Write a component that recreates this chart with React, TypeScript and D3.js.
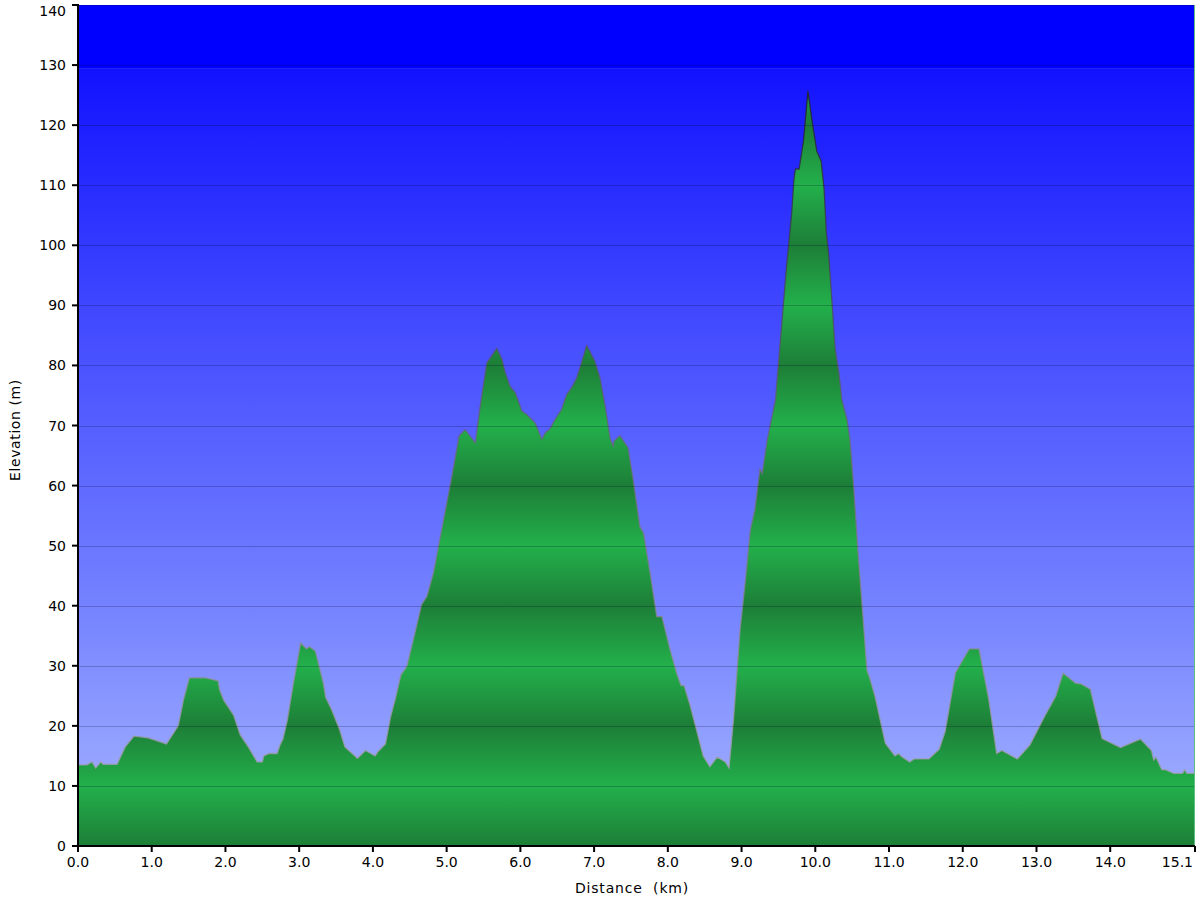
import React from "react";
import * as d3 from "d3";

const distanceKm = [
  0.0, 0.12, 0.19, 0.24, 0.31, 0.34, 0.53, 0.64, 0.76, 0.95, 1.2, 1.36, 1.43, 1.51, 1.73, 1.9, 1.92, 1.98,
  2.11, 2.2, 2.31, 2.43, 2.5, 2.52, 2.59, 2.7, 2.74, 2.78, 2.84, 2.92, 3.02, 3.1, 3.14, 3.22, 3.33, 3.36,
  3.44, 3.55, 3.62, 3.79, 3.9, 4.03, 4.06, 4.17, 4.24, 4.3, 4.38, 4.46, 4.54, 4.66, 4.73, 4.82, 4.89, 4.98,
  5.07, 5.17, 5.25, 5.39, 5.455, 5.545, 5.68, 5.75, 5.79, 5.86, 5.93, 6.02, 6.09, 6.2, 6.24, 6.29, 6.34,
  6.4, 6.47, 6.56, 6.63, 6.7, 6.765, 6.9, 7.01, 7.08, 7.15, 7.22, 7.26, 7.27, 7.35, 7.46, 7.53, 7.62, 7.67,
  7.76, 7.85, 7.92, 8.03, 8.12, 8.18, 8.22, 8.3, 8.4, 8.48, 8.57, 8.67, 8.78, 8.83, 8.89, 8.98, 9.05, 9.12,
  9.18, 9.25, 9.28, 9.35, 9.46, 9.52, 9.61, 9.68, 9.71, 9.73, 9.78, 9.84, 9.9, 9.96, 10.02, 10.08, 10.12,
  10.15, 10.18, 10.23, 10.27, 10.32, 10.36, 10.43, 10.47, 10.52, 10.58, 10.65, 10.7, 10.74, 10.81, 10.95,
  11.08, 11.13, 11.17, 11.28, 11.34, 11.54, 11.68, 11.76, 11.9, 12.04, 12.09, 12.22, 12.35, 12.46, 12.53,
  12.74, 12.91, 13.12, 13.26, 13.36, 13.53, 13.6, 13.73, 13.89, 14.14, 14.41, 14.56, 14.59, 14.62, 14.7,
  14.75, 14.86, 14.98, 15.01, 15.04, 15.15,
];

const elevationM = [
  13.5, 13.5, 14, 13, 14, 13.6, 13.6, 16.5, 18.3, 18, 17, 20, 24.3, 28, 28, 27.5, 26, 24.2,
  21.8, 18.5, 16.5, 14, 14, 15, 15.4, 15.4, 16.8, 17.8, 21, 27, 33.8, 32.8, 33.2, 32.4, 27, 24.7,
  22.7, 19.3, 16.5, 14.6, 15.9, 15, 15.6, 17, 21.5, 24.3, 28.5, 29.9, 33.9, 40.2, 41.5, 45.4, 49.9, 55.7,
  61.5, 68.3, 69.3, 67.1, 73.2, 80.4, 82.8, 81, 79, 76.5, 75.5, 72.4, 71.8, 70.4, 69.3, 67.7, 68.8,
  69.4, 71, 72.7, 75.2, 76.4, 77.9, 83.3, 80.7, 77.9, 73.2, 67.7, 66.6, 67.4, 68.3, 66.3, 61, 53.2, 52.1,
  45.4, 38.2, 38.2, 32.7, 28.8, 26.7, 26.7, 23.5, 18.8, 15, 13.2, 14.8, 14, 13, 21, 36, 44, 52.7,
  56, 62.7, 62, 67.7, 74.3, 83.2, 96.5, 105.4, 111, 112.7, 112.7, 117.4, 125.7, 120.4, 115.7, 114, 109.3,
  102.1, 98.8, 89.9, 82.7, 78.8, 74.3, 71, 67.7, 59.9, 48.8, 37.7, 29.3, 27.9, 24.9, 17.1,
  15, 15.4, 14.9, 14, 14.5, 14.5, 16.1, 19, 28.8, 31.8, 32.8, 32.8, 24.6, 15.4, 15.9,
  14.5, 16.8, 21.8, 24.9, 28.8, 27.1, 27, 26.1, 17.9, 16.4, 17.8, 15.9, 14.3, 14.8, 12.7,
  12.7, 12.1, 12.1, 12.7, 12.1, 12.1,
];

const yTicks = [0, 10, 20, 30, 40, 50, 60, 70, 80, 90, 100, 110, 120, 130, 140];
const xTicks = [0, 1, 2, 3, 4, 5, 6, 7, 8, 9, 10, 11, 12, 13, 14, 15.15];
const xTickLabels = ["0.0", "1.0", "2.0", "3.0", "4.0", "5.0", "6.0", "7.0", "8.0", "9.0", "10.0", "11.0", "12.0", "13.0", "14.0", "15.1"];

export default function App() {
  const W = 1200;
  const H = 900;
  const left = 78;
  const right = 1195;
  const top = 5;
  const bottom = 846;
  const x = d3.scaleLinear().domain([0, 15.15]).range([left, right]);
  const y = d3.scaleLinear().domain([0, 140]).range([bottom, top]);

  const pts = distanceKm.map((d, i) => [d, elevationM[i]] as [number, number]);
  const area = d3
    .area<[number, number]>()
    .x((p) => x(p[0]))
    .y0(y(0))
    .y1((p) => y(p[1]))(pts) as string;
  const line = d3
    .line<[number, number]>()
    .x((p) => x(p[0]))
    .y((p) => y(p[1]))(pts) as string;

  const dark = "#1d7e37";
  const bright = "#23b04b";
  const font = "'DejaVu Sans', Verdana, sans-serif";
  const fs = 14;

  return (
    <svg width={W} height={H} style={{ position: "absolute", left: 0, top: 0, background: "#fff" }} xmlns="http://www.w3.org/2000/svg">
      <defs>
        <linearGradient id="sky" gradientUnits="userSpaceOnUse" x1={0} x2={0} y1={y(129.5)} y2={y(0)}>
          <stop offset="0" stopColor="rgb(18,18,255)" />
          <stop offset="0.35" stopColor="rgb(70,78,255)" />
          <stop offset="0.7" stopColor="rgb(118,132,255)" />
          <stop offset="1" stopColor="rgb(168,182,255)" />
        </linearGradient>
        <linearGradient id="ground" gradientUnits="userSpaceOnUse" x1={0} x2={0} y1={y(0)} y2={y(140)}>
          {yTicks.map((t, i) => (
            <stop key={t} offset={t / 140} stopColor={i % 2 === 0 ? dark : bright} />
          ))}
        </linearGradient>
        <linearGradient id="edge" gradientUnits="userSpaceOnUse" x1={0} x2={0} y1={y(130)} y2={y(0)}>
          <stop offset="0" stopColor="#1a1a2a" />
          <stop offset="0.5" stopColor="#6a6a80" />
          <stop offset="1" stopColor="#a8aab0" />
        </linearGradient>
      </defs>

      <rect x={left} y={top} width={right - left} height={y(129.5) - top} fill="#0000ff" />
      <rect x={left} y={y(129.5)} width={right - left} height={bottom - y(129.5)} fill="url(#sky)" />

      <path d={area} fill="url(#ground)" />
      <path d={line} fill="none" stroke="url(#edge)" strokeOpacity={0.85} strokeWidth={1.3} />

      {yTicks.map((t) => (
        <line key={t} x1={left} x2={right} y1={Math.round(y(t)) + 0.5} y2={Math.round(y(t)) + 0.5} stroke="rgba(0,0,40,0.22)" strokeWidth={1} />
      ))}

      <line x1={right - 0.5} x2={right - 0.5} y1={top} y2={bottom} stroke="#5cbf80" strokeWidth={1} />

      <line x1={left} x2={right} y1={bottom} y2={bottom} stroke="#000" strokeWidth={2} />
      <line x1={left} x2={left} y1={top - 1} y2={bottom + 1} stroke="#000" strokeWidth={2} />

      {yTicks.map((t) => (
        <g key={t}>
          <line x1={left - 6} x2={left} y1={y(t)} y2={y(t)} stroke="#000" strokeWidth={2} />
          <text x={66} y={Math.max(y(t), 11) + 5} textAnchor="end" fontFamily={font} fontSize={fs} fill="#000">
            {t}
          </text>
        </g>
      ))}
      {xTicks.map((t, i) => (
        <g key={t}>
          <line x1={x(t)} x2={x(t)} y1={bottom} y2={bottom + 6} stroke="#000" strokeWidth={2} />
          <text
            x={i === xTicks.length - 1 ? 1193 : x(t)}
            y={867}
            textAnchor={i === xTicks.length - 1 ? "end" : "middle"}
            fontFamily={font}
            fontSize={fs}
            fill="#000"
          >
            {xTickLabels[i]}
          </text>
        </g>
      ))}

      <text x={632} y={893} textAnchor="middle" fontFamily={font} fontSize={fs} letterSpacing={0.8} fill="#000" style={{ whiteSpace: "pre" }}>
        {"Distance  (km)"}
      </text>
      <text transform="translate(20,430) rotate(-90)" textAnchor="middle" fontFamily={font} fontSize={fs} letterSpacing={0.6} fill="#000">
        Elevation (m)
      </text>
    </svg>
  );
}
